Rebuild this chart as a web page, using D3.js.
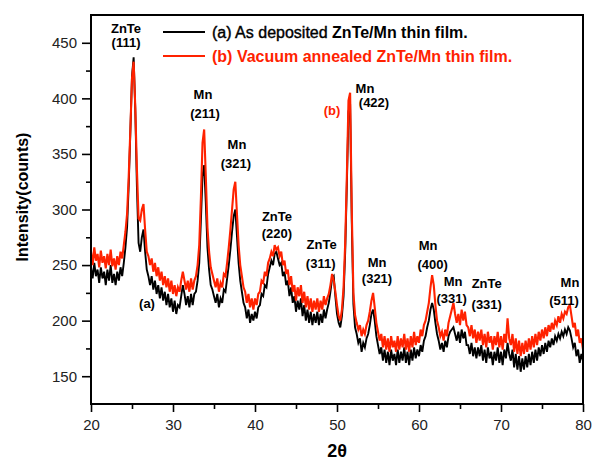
<!DOCTYPE html>
<html>
<head>
<meta charset="utf-8">
<script src="https://cdn.jsdelivr.net/npm/d3@7"></script>
<style>
  body { margin: 0; background: #fff; }
  svg { display: block; font-family: "Liberation Sans", Arial, sans-serif; }
</style>
</head>
<body>
<div id="chart"></div>
<script>
// XRD data, one row per degree (x.0, x.2, x.4, x.6, x.8), 20 -> 80 deg
var thetaStart = 20;
var thetaStep = 0.2;

// (a) as deposited
var countsA = [
  248, 238, 252, 240, 246, // 20
  234, 248, 238, 244, 232, // 21
  246, 236, 250, 234, 242, // 22
  232, 244, 236, 248, 240, // 23
  252, 266, 284, 322, 370, // 24
  420, 437, 390, 320, 270, // 25
  262, 275, 282, 262, 246, // 26
  240, 232, 240, 228, 236, // 27
  224, 232, 220, 230, 218, // 28
  226, 214, 224, 212, 220, // 29
  208, 218, 206, 214, 212, // 30
  222, 232, 224, 214, 222, // 31
  212, 224, 214, 224, 226, // 32
  236, 252, 290, 330, 340, // 33
  306, 266, 246, 232, 228, // 34
  222, 216, 224, 212, 220, // 35
  216, 228, 226, 238, 250, // 36
  264, 280, 294, 300, 276, // 37
  252, 236, 226, 216, 212, // 38
  202, 210, 198, 206, 200, // 39
  208, 202, 212, 214, 224, // 40
  222, 232, 230, 242, 248, // 41
  254, 250, 260, 262, 256, // 42
  250, 252, 240, 244, 232, // 43
  236, 222, 230, 216, 222, // 44
  208, 218, 210, 220, 204, // 45
  214, 200, 210, 198, 208, // 46
  196, 206, 198, 208, 196, // 47
  206, 198, 210, 202, 210, // 48
  216, 226, 238, 240, 222, // 49
  206, 198, 194, 204, 222, // 50
  262, 322, 388, 395, 290, // 51
  215, 194, 188, 180, 184, // 52
  172, 180, 176, 184, 188, // 53
  196, 206, 210, 200, 186, // 54
  178, 170, 176, 164, 174, // 55
  162, 172, 160, 174, 164, // 56
  170, 160, 174, 162, 172, // 57
  164, 176, 162, 172, 160, // 58
  174, 164, 176, 166, 174, // 59
  168, 178, 172, 182, 186, // 60
  194, 200, 210, 216, 210, // 61
  198, 188, 182, 174, 180, // 62
  172, 182, 176, 186, 190, // 63
  192, 194, 188, 182, 190, // 64
  180, 192, 184, 190, 178, // 65
  178, 170, 180, 168, 176, // 66
  166, 176, 168, 178, 164, // 67
  174, 162, 176, 166, 172, // 68
  160, 172, 164, 176, 162, // 69
  172, 160, 174, 166, 180, // 70
  170, 164, 174, 158, 170, // 71
  156, 168, 154, 166, 156, // 72
  168, 158, 170, 160, 172, // 73
  162, 174, 164, 176, 168, // 74
  178, 170, 180, 172, 182, // 75
  176, 184, 178, 186, 182, // 76
  188, 184, 190, 186, 192, // 77
  188, 194, 191, 184, 176, // 78
  180, 168, 174, 162, 170, // 79
  164                      // 80
];

// (b) vacuum annealed
var countsB = [
  262, 250, 266, 254, 260, // 20
  248, 263, 252, 258, 247, // 21
  260, 250, 264, 249, 256, // 22
  246, 258, 250, 262, 256, // 23
  268, 280, 296, 330, 372, // 24
  418, 433, 392, 336, 292, // 25
  290, 300, 305, 282, 262, // 26
  258, 250, 256, 244, 252, // 27
  240, 248, 236, 244, 232, // 28
  240, 230, 238, 226, 236, // 29
  224, 232, 222, 230, 226, // 30
  236, 244, 236, 228, 236, // 31
  226, 238, 228, 236, 240, // 32
  250, 268, 310, 360, 372, // 33
  330, 284, 262, 248, 242, // 34
  236, 230, 238, 226, 234, // 35
  230, 242, 240, 252, 266, // 36
  282, 300, 318, 325, 296, // 37
  268, 250, 240, 230, 226, // 38
  216, 224, 212, 220, 210, // 39
  220, 214, 224, 226, 236, // 40
  234, 244, 240, 252, 256, // 41
  262, 258, 268, 264, 266, // 42
  258, 262, 250, 254, 242, // 43
  246, 232, 240, 226, 232, // 44
  218, 230, 222, 232, 216, // 45
  226, 212, 222, 210, 220, // 46
  208, 218, 210, 220, 208, // 47
  218, 210, 222, 214, 220, // 48
  224, 232, 242, 236, 226, // 49
  214, 204, 200, 210, 230, // 50
  270, 330, 398, 405, 300, // 51
  225, 205, 198, 192, 196, // 52
  186, 192, 188, 196, 200, // 53
  208, 218, 225, 212, 198, // 54
  190, 182, 188, 176, 186, // 55
  174, 184, 172, 186, 176, // 56
  182, 172, 186, 174, 184, // 57
  176, 188, 174, 184, 172, // 58
  186, 176, 190, 178, 186, // 59
  180, 192, 186, 196, 200, // 60
  208, 216, 230, 241, 232, // 61
  214, 200, 194, 186, 190, // 62
  182, 192, 186, 198, 204, // 63
  210, 216, 206, 198, 206, // 64
  196, 210, 200, 208, 196, // 65
  194, 186, 196, 184, 192, // 66
  180, 190, 182, 192, 178, // 67
  188, 176, 190, 180, 186, // 68
  174, 186, 178, 190, 176, // 69
  186, 174, 188, 180, 202, // 70
  184, 178, 188, 172, 184, // 71
  170, 182, 168, 180, 170, // 72
  182, 172, 184, 174, 186, // 73
  176, 188, 178, 190, 182, // 74
  192, 184, 194, 186, 196, // 75
  190, 198, 192, 200, 196, // 76
  204, 198, 206, 202, 208, // 77
  206, 212, 214, 204, 194, // 78
  198, 186, 192, 180, 184, // 79
  174                      // 80
];

var xTicks = [20, 30, 40, 50, 60, 70, 80];
var yTicks = [150, 200, 250, 300, 350, 400, 450];

// peak labels: text, 2theta, counts (baseline), colour
var peakLabels = [
  ["ZnTe", 24.27, 458.8, "#000"], ["(111)", 24.27, 446.2, "#000"],
  ["Mn", 33.66, 399.4, "#000"], ["(211)", 33.9, 382.3, "#000"],
  ["Mn", 37.8, 354.4, "#000"], ["(321)", 37.68, 337.3, "#000"],
  ["ZnTe", 42.68, 289.7, "#000"], ["(220)", 42.68, 274.4, "#000"],
  ["ZnTe", 48.13, 264.5, "#000"], ["(311)", 48.01, 247.4, "#000"],
  ["Mn", 53.41, 404.8, "#000"], ["(422)", 54.51, 392.2, "#000"],
  ["(b)", 49.39, 385, "#ff2200"],
  ["Mn", 54.88, 248.3, "#000"], ["(321)", 54.88, 233.9, "#000"],
  ["Mn", 61.1, 263.6, "#000"], ["(400)", 61.67, 246.5, "#000"],
  ["Mn", 64.15, 231.2, "#000"], ["(331)", 63.99, 215.9, "#000"],
  ["ZnTe", 68.26, 229.4, "#000"], ["(331)", 68.26, 210.5, "#000"],
  ["Mn", 78.41, 230.3, "#000"], ["(511)", 77.68, 214.1, "#000"],
  ["(a)", 26.83, 211.4, "#000"]
];

var theta = countsA.map(function (d, i) { return +(thetaStart + i * thetaStep).toFixed(1); });

var W = 592, H = 460;
var margin = { top: 15, right: 9, bottom: 56, left: 91 };

var svg = d3.select("#chart").append("svg").attr("width", W).attr("height", H);

var x = d3.scaleLinear().domain([20, 80]).range([margin.left, W - margin.right]);
var y = d3.scaleLinear().domain([125, 475]).range([H - margin.bottom, margin.top]);

svg.append("clipPath").attr("id", "plot").append("rect")
  .attr("x", margin.left).attr("y", margin.top)
  .attr("width", W - margin.left - margin.right)
  .attr("height", H - margin.top - margin.bottom);

var line = d3.line()
  .x(function (d) { return x(d[0]); })
  .y(function (d) { return y(d[1]); });

function pairs(counts) {
  return counts.map(function (c, i) { return [theta[i], c]; });
}

svg.append("path").datum(pairs(countsA))
  .attr("clip-path", "url(#plot)")
  .attr("fill", "none").attr("stroke", "#000").attr("stroke-width", 1.9)
  .attr("d", line);
svg.append("path").datum(pairs(countsB))
  .attr("clip-path", "url(#plot)")
  .attr("fill", "none").attr("stroke", "#ff2200").attr("stroke-width", 2.1)
  .attr("d", line);

// axes (ticks outside)
var xAxis = svg.append("g").attr("transform", "translate(0," + (H - margin.bottom) + ")")
  .call(d3.axisBottom(x).tickValues(xTicks).tickSize(8).tickPadding(7));
var xMinor = svg.append("g").attr("transform", "translate(0," + (H - margin.bottom) + ")")
  .call(d3.axisBottom(x).tickValues([25, 35, 45, 55, 65, 75]).tickSize(5).tickFormat(""));
var yAxis = svg.append("g").attr("transform", "translate(" + margin.left + ",0)")
  .call(d3.axisLeft(y).tickValues(yTicks).tickSize(9).tickPadding(5));
var yMinor = svg.append("g").attr("transform", "translate(" + margin.left + ",0)")
  .call(d3.axisLeft(y).tickValues([175, 225, 275, 325, 375, 425]).tickSize(5).tickFormat(""));

[xAxis, xMinor, yAxis, yMinor].forEach(function (g) {
  g.select(".domain").remove();
  g.selectAll("line").attr("stroke", "#000").attr("stroke-width", 1.6);
  g.selectAll("text").attr("font-size", 15).attr("fill", "#222")
    .attr("font-family", "'Liberation Sans', Arial, sans-serif");
});

// frame
svg.append("rect")
  .attr("x", margin.left).attr("y", margin.top)
  .attr("width", W - margin.left - margin.right)
  .attr("height", H - margin.top - margin.bottom)
  .attr("fill", "none").attr("stroke", "#000").attr("stroke-width", 2);

// axis titles
svg.append("text")
  .attr("transform", "translate(28," + 197 + ") rotate(-90)")
  .attr("text-anchor", "middle").attr("font-size", 16).attr("font-weight", "bold")
  .text("Intensity(counts)");
svg.append("text")
  .attr("x", 337).attr("y", 457)
  .attr("text-anchor", "middle").attr("font-size", 18).attr("font-weight", "bold")
  .text("2θ");

// peak labels
svg.selectAll(".peak").data(peakLabels).enter().append("text")
  .attr("class", "peak")
  .attr("x", function (d) { return x(d[1]); })
  .attr("y", function (d) { return y(d[2]); })
  .attr("text-anchor", "middle").attr("font-size", 13).attr("font-weight", "bold")
  .attr("fill", function (d) { return d[3]; })
  .text(function (d) { return d[0]; });

// legend
var legend = [
  { color: "#000", lead: "(a) As deposited ", rest: "ZnTe/Mn thin film.", y: 32 },
  { color: "#ff2200", lead: "(b) Vacuum annealed ", rest: "ZnTe/Mn thin film.", y: 56 }
];
legend.forEach(function (d) {
  svg.append("line").attr("x1", 163).attr("x2", 205).attr("y1", d.y).attr("y2", d.y)
    .attr("stroke", d.color).attr("stroke-width", 2);
  var t = svg.append("text").attr("x", 212).attr("y", d.y + 5.5)
    .attr("font-size", 16).attr("fill", d.color);
  var lead = t.append("tspan").text(d.lead);
  if (d.color === "#000") {
    // first part of the black entry is a little lighter than the rest
    lead.attr("stroke", d.color).attr("stroke-width", 0.4);
  } else {
    lead.attr("font-weight", "bold");
  }
  t.append("tspan").attr("font-weight", "bold").text(d.rest);
});
</script>
</body>
</html>
